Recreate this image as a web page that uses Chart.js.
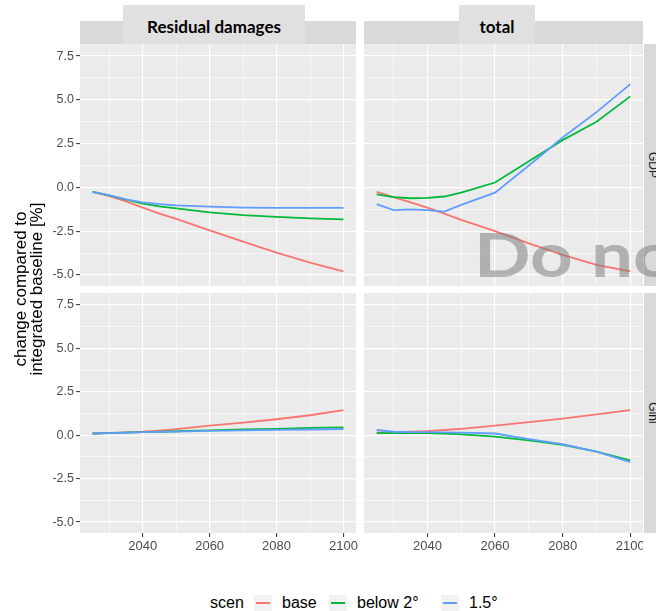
<!DOCTYPE html>
<html>
<head>
<meta charset="utf-8">
<script src="https://cdn.jsdelivr.net/npm/chart.js@4.4.1/dist/chart.umd.min.js"></script>
<style>
  body { margin: 0; width: 656px; height: 611px; position: relative; overflow: hidden; background: #fff;
         font-family: "Liberation Sans", Arial, sans-serif; }
  .abs { position: absolute; }
  canvas { position: absolute; }
  .strip { position: absolute; background: #d9d9d9; }
  .label { position: absolute; background: #e0e0e0; font-family: Lato, sans-serif; font-weight: bold;
           font-size: 17px; color: #000; display: flex; align-items: center; justify-content: center; }
  .rstrip { position: absolute; left: 644px; width: 18px; background: #d9d9d9; overflow: hidden; }
  .rstrip span { position: absolute; left: 50%; top: 50%; transform: translate(-50%, -50%) rotate(90deg);
                 font-size: 12px; color: #1a1a1a; white-space: nowrap; }
  #ytitle { left: -81px; top: 273px; width: 220px; height: 32px; font-size: 17px; line-height: 16px;
            text-align: center; transform: rotate(-90deg); color: #000; }
  #legend { left: 210px; top: 594px; height: 18px; display: flex; align-items: center; font-size: 16px; color: #000; }
  #legend .item { display: flex; align-items: center; }
  #legend .key { width: 18px; height: 17px; background: #f2f2f2; position: relative; margin-right: 10px; }
  #legend .key i { position: absolute; left: 2px; right: 2px; top: 7.5px; height: 2px; }
  #mark { left: 474px; top: 222px; font-family: Lato, sans-serif; font-weight: bold; font-size: 62px;
          line-height: 1; color: rgba(128,128,128,0.55); white-space: nowrap; pointer-events: none;
          transform: scaleX(1.2); transform-origin: left top; }
</style>
</head>
<body>

<div class="strip" style="left:80px;top:21px;width:276px;height:23px"></div>
<div class="strip" style="left:364px;top:21px;width:279px;height:23px"></div>
<div class="label" style="left:123px;top:5px;width:182px;height:42px">Residual damages</div>
<div class="label" style="left:459px;top:5px;width:76px;height:42px">total</div>
<div class="rstrip" style="top:44px;height:242px"><span>GDP</span></div>
<div class="rstrip" style="top:293px;height:240px"><span>Gini</span></div>

<canvas id="c1" width="324" height="242" style="left:40px;top:44px"></canvas>
<canvas id="c2" width="279" height="242" style="left:364px;top:44px"></canvas>
<canvas id="c3" width="324" height="265" style="left:40px;top:293px"></canvas>
<canvas id="c4" width="279" height="265" style="left:364px;top:293px"></canvas>

<div id="ytitle" class="abs">change compared to<br>integrated baseline [%]</div>
<div id="mark" class="abs">Do not</div>
<div id="legend" class="abs"></div>

<script>
const years = [2025, 2030, 2035, 2040, 2045, 2050, 2060, 2070, 2080, 2090, 2100];
const scenarios = ["base", "below 2°", "1.5°"];
const scenColors = ["#F8766D", "#00BA38", "#619CFF"];
const xTicks = [2040, 2060, 2080, 2100];
const yTicks = [-5, -2.5, 0, 2.5, 5, 7.5];

// GDP - Residual damages
const gdpResBase   = [-0.25, -0.5, -0.8, -1.15, -1.5, -1.8, -2.45, -3.1, -3.72, -4.3, -4.8];
const gdpResBelow2 = [-0.25, -0.45, -0.7, -0.92, -1.08, -1.2, -1.42, -1.58, -1.68, -1.77, -1.82];
const gdpRes15     = [-0.25, -0.45, -0.68, -0.85, -0.95, -1.02, -1.1, -1.15, -1.17, -1.17, -1.17];
// GDP - total
const gdpTotBase   = [-0.25, -0.55, -0.85, -1.15, -1.5, -1.85, -2.5, -3.2, -3.85, -4.42, -4.8];
const gdpTotBelow2 = [-0.4, -0.55, -0.62, -0.6, -0.52, -0.3, 0.28, 1.5, 2.7, 3.75, 5.2];
const gdpTot15     = [-0.95, -1.3, -1.25, -1.3, -1.38, -1.0, -0.3, 1.25, 2.85, 4.3, 5.9];
// Gini - Residual damages
const giniResBase   = [0.1, 0.13, 0.17, 0.2, 0.27, 0.35, 0.55, 0.72, 0.92, 1.15, 1.45];
const giniResBelow2 = [0.1, 0.12, 0.15, 0.18, 0.2, 0.23, 0.28, 0.33, 0.37, 0.42, 0.45];
const giniRes15     = [0.1, 0.12, 0.15, 0.18, 0.19, 0.21, 0.25, 0.28, 0.31, 0.33, 0.36];
// Gini - total
const giniTotBase   = [0.15, 0.17, 0.2, 0.24, 0.3, 0.37, 0.55, 0.75, 0.95, 1.2, 1.45];
const giniTotBelow2 = [0.12, 0.12, 0.12, 0.12, 0.1, 0.05, -0.08, -0.3, -0.55, -0.95, -1.45];
const giniTot15     = [0.3, 0.2, 0.18, 0.18, 0.17, 0.15, 0.1, -0.22, -0.52, -0.95, -1.55];

const X_MIN = 2021.25, X_MAX = 2103.75;
const Y_MIN = -5.63, Y_MAX = 8.19;

// major + minor gridline positions
const xGrid = [], yGrid = [];
for (let v = 2030; v <= 2100; v += 10) xGrid.push(v);
for (let v = -5; v <= 7.5; v += 1.25) yGrid.push(v);

const isMajorX = v => xTicks.includes(v);
const isMajorY = v => yTicks.some(t => Math.abs(t - v) < 1e-6);

const panelBg = {
  id: "panelBg",
  beforeDraw(chart) {
    const a = chart.chartArea, ctx = chart.ctx;
    ctx.save();
    ctx.fillStyle = "#ebebeb";
    ctx.fillRect(a.left, a.top, a.right - a.left, a.bottom - a.top);
    ctx.restore();
  }
};

function noPad(scale) {
  scale.paddingTop = 0; scale.paddingBottom = 0;
  scale.paddingLeft = 0; scale.paddingRight = 0;
}

function makePanel(id, series, showX, showY) {
  const datasets = series.map((vals, i) => ({
    label: scenarios[i],
    data: years.map((yr, j) => ({ x: yr, y: vals[j] })),
    borderColor: scenColors[i],
    borderWidth: 1.8,
    pointRadius: 0,
    tension: 0,
    fill: false,
    order: 3 - i
  }));
  new Chart(document.getElementById(id), {
    type: "line",
    data: { datasets },
    plugins: [panelBg],
    options: {
      responsive: false,
      animation: false,
      layout: { padding: { right: showY ? 8 : 0 } },
      plugins: { legend: { display: false }, tooltip: { enabled: false } },
      scales: {
        x: {
          type: "linear", min: X_MIN, max: X_MAX,
          afterBuildTicks: s => { s.ticks = xGrid.map(v => ({ value: v })); },
          afterFit: s => { noPad(s); s.height = showX ? 25 : 0; },
          border: { display: false },
          grid: {
            color: "#ffffff",
            lineWidth: c => (c.tick && isMajorX(c.tick.value)) ? 1.2 : 0.6,
            drawTicks: showX,
            tickLength: 4,
            tickWidth: 1,
            tickColor: c => (c.tick && isMajorX(c.tick.value)) ? "#333333" : "rgba(0,0,0,0)"
          },
          ticks: {
            display: showX, autoSkip: false, maxRotation: 0, padding: 2,
            color: "#4d4d4d", font: { family: "Liberation Sans", size: 13 },
            callback: v => isMajorX(v) ? String(v) : ""
          }
        },
        y: {
          type: "linear", min: Y_MIN, max: Y_MAX,
          afterBuildTicks: s => { s.ticks = yGrid.map(v => ({ value: v })); },
          afterFit: s => { noPad(s); s.width = showY ? 40 : 0; },
          border: { display: false },
          grid: {
            color: "#ffffff",
            lineWidth: c => (c.tick && isMajorY(c.tick.value)) ? 1.2 : 0.6,
            drawTicks: showY,
            tickLength: 4,
            tickWidth: 1,
            tickColor: c => (c.tick && isMajorY(c.tick.value)) ? "#333333" : "rgba(0,0,0,0)"
          },
          ticks: {
            display: showY, autoSkip: false, padding: 2,
            color: "#4d4d4d", font: { family: "Liberation Sans", size: 12.5 },
            callback: v => isMajorY(v) ? v.toFixed(1) : ""
          }
        }
      }
    }
  });
}

makePanel("c1", [gdpResBase, gdpResBelow2, gdpRes15], false, true);
makePanel("c2", [gdpTotBase, gdpTotBelow2, gdpTot15], false, false);
makePanel("c3", [giniResBase, giniResBelow2, giniRes15], true, true);
makePanel("c4", [giniTotBase, giniTotBelow2, giniTot15], true, false);

// legend built from the scenario list
const legend = document.getElementById("legend");
const itemWidths = [75, 112, 60];
legend.innerHTML = '<span style="width:44px">scen</span>' + scenarios.map((s, i) =>
  `<span class="item" style="width:${itemWidths[i]}px"><span class="key"><i style="background:${scenColors[i]}"></i></span>${s}</span>`
).join("");
</script>
</body>
</html>
